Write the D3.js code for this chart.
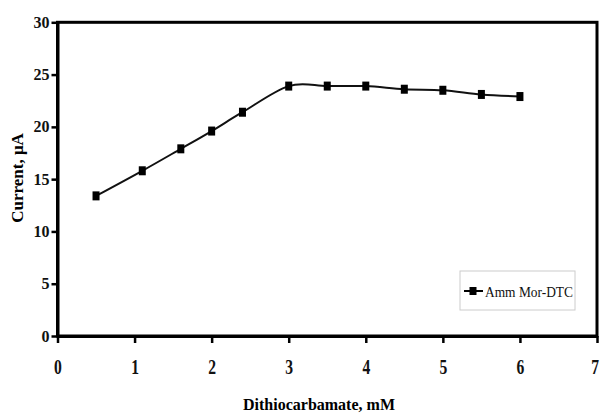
<!DOCTYPE html>
<html><head><meta charset="utf-8">
<script src="https://cdnjs.cloudflare.com/ajax/libs/d3/7.8.5/d3.min.js"></script>
<style>body{margin:0;background:#fff}svg{display:block}</style>
</head><body>
<script>
const concentrations = [0.5, 1.1, 1.6, 2.0, 2.4, 3.0, 3.5, 4.0, 4.5, 5.0, 5.5, 6.0];
const currents = [13.4, 15.8, 17.9, 19.6, 21.4, 23.9, 23.9, 23.9, 23.6, 23.5, 23.1, 22.9];
const xTicks = [0, 1, 2, 3, 4, 5, 6, 7];
const yTicks = [0, 5, 10, 15, 20, 25, 30];
const seriesName = "Amm Mor-DTC";
const xTitle = "Dithiocarbamate, mM";
const yTitle = "Current, \u03bcA";

const W = 602, H = 413;
const m = {left: 57.5, right: 5, top: 22.3, bottom: 77};
const svg = d3.select("body").append("svg").attr("width", W).attr("height", H);
const x = d3.scaleLinear().domain([0, 7]).range([m.left, W - m.right]);
const y = d3.scaleLinear().domain([0, 30]).range([H - m.bottom, m.top]);
const font = "Liberation Serif";

// frame
svg.append("rect").attr("x", x(0)).attr("y", y(30))
  .attr("width", x(7) - x(0)).attr("height", y(0) - y(30))
  .attr("fill", "none").attr("stroke", "#000").attr("stroke-width", 3);

// y axis
const ya = svg.append("g").attr("transform", `translate(${x(0)},0)`)
  .call(d3.axisLeft(y).tickValues(yTicks).tickFormat(d3.format("d")).tickSize(6).tickSizeOuter(0));
ya.select(".domain").attr("stroke-width", 3);
ya.selectAll(".tick line").attr("stroke-width", 2.5);
ya.selectAll(".tick text").style("font-family", font).style("font-size", "16px")
  .style("font-weight", "bold").attr("fill", "#111").attr("x", -8);

// x axis
const xa = svg.append("g").attr("transform", `translate(0,${y(0)})`)
  .call(d3.axisBottom(x).tickValues(xTicks).tickFormat(d3.format("d")).tickSize(7).tickSizeOuter(0));
xa.select(".domain").attr("stroke-width", 3);
xa.selectAll(".tick line").attr("stroke-width", 2.5);
xa.selectAll(".tick text").style("font-family", font).style("font-size", "20px")
  .style("font-weight", "bold").attr("fill", "#111").attr("dy", null).attr("y", 38)
  .attr("transform", "scale(0.78,1)");
xa.select(".tick:last-of-type text").attr("x", -3);

// titles
svg.append("text").attr("x", 319).attr("y", 410)
  .attr("text-anchor", "middle").style("font-family", font).style("font-size", "16px")
  .style("font-weight", "bold").text(xTitle);
svg.append("text").attr("transform", `translate(23,178) rotate(-90)`)
  .attr("text-anchor", "middle").style("font-family", font).style("font-size", "17px")
  .style("font-weight", "bold").text(yTitle);

// line
const pts = concentrations.map((c, i) => [c, currents[i]]);
svg.append("path").datum(pts)
  .attr("fill", "none").attr("stroke", "#111").attr("stroke-width", 2)
  .attr("d", d3.line().x(d => x(d[0])).y(d => y(d[1])).curve(d3.curveCardinal));
svg.selectAll("rect.mk").data(pts).join("rect").attr("class", "mk")
  .attr("x", d => x(d[0]) - 3.5).attr("y", d => y(d[1]) - 4.5)
  .attr("width", 7).attr("height", 9).attr("fill", "#000");

// legend
const lg = svg.append("g");
lg.append("rect").attr("x", 460).attr("y", 271).attr("width", 115).attr("height", 39)
  .attr("fill", "#fff").attr("stroke", "#ccc").attr("stroke-width", 1);
lg.append("line").attr("x1", 464).attr("x2", 483).attr("y1", 291).attr("y2", 291)
  .attr("stroke", "#000").attr("stroke-width", 2);
lg.append("rect").attr("x", 469.5).attr("y", 287).attr("width", 7).attr("height", 8).attr("fill", "#000");
lg.append("text").attr("x", 485).attr("y", 297).style("font-family", font)
  .style("font-size", "15.5px").attr("fill", "#111")
  .attr("textLength", 88).attr("lengthAdjust", "spacingAndGlyphs").text(seriesName);
</script>
</body></html>
